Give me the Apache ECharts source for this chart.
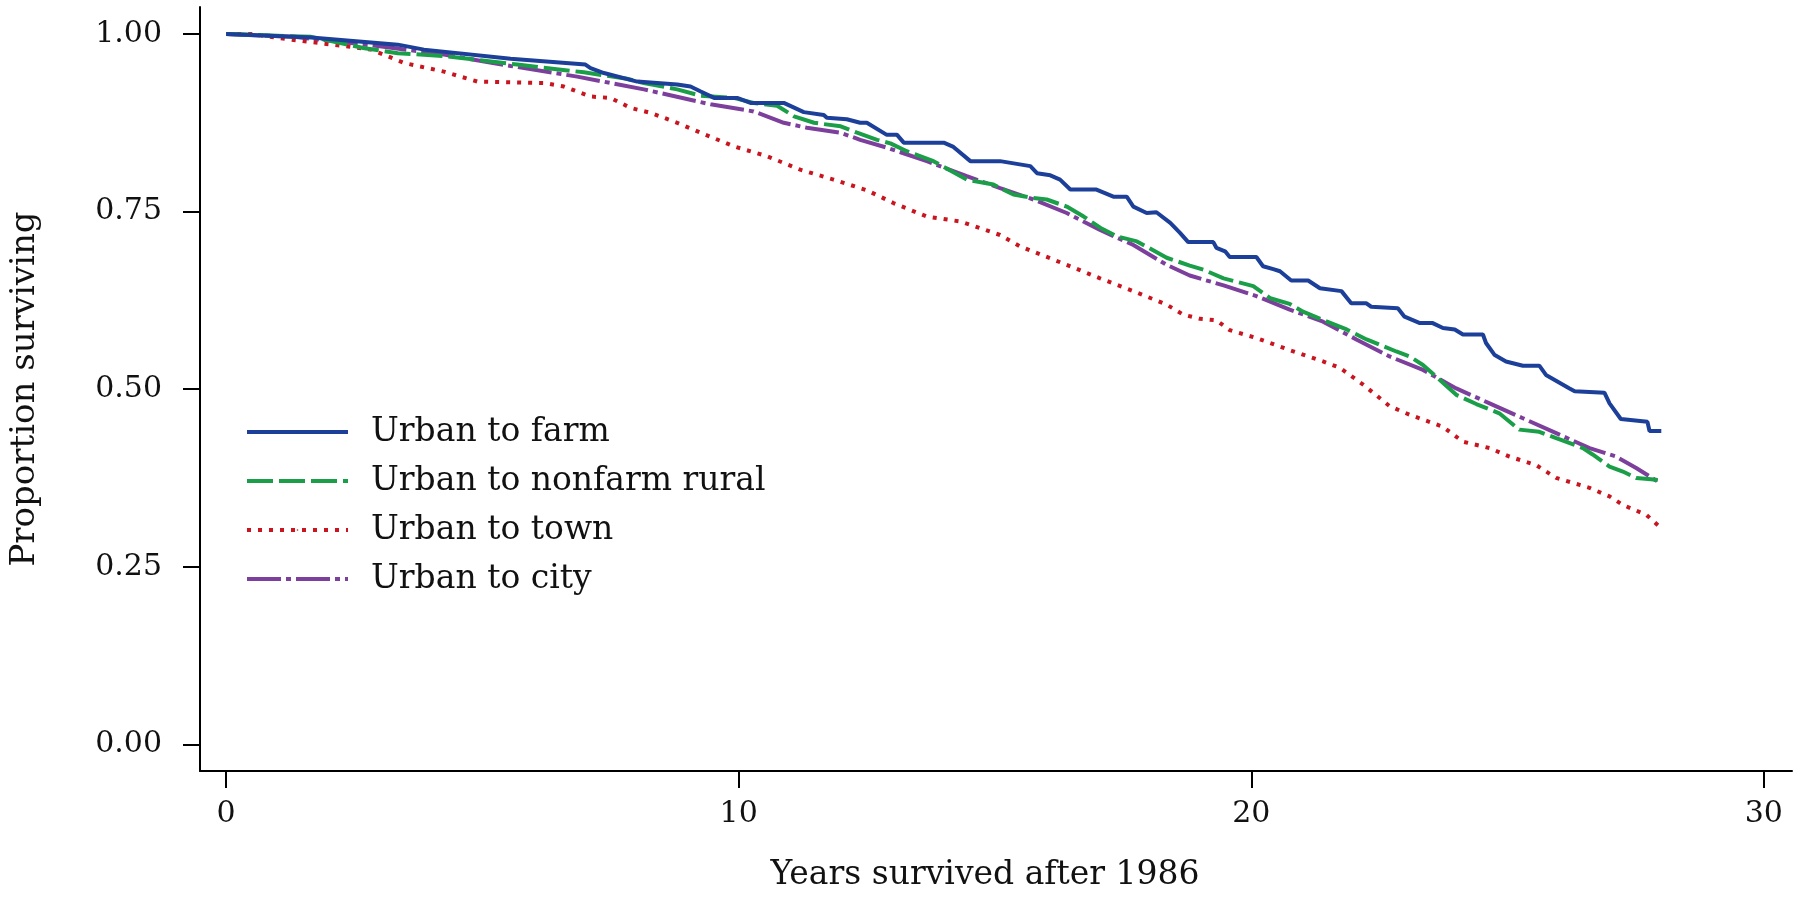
<!DOCTYPE html>
<html>
<head>
<meta charset="utf-8">
<script src="https://cdn.jsdelivr.net/npm/echarts@6/dist/echarts.min.js"></script>
<style>
html,body{margin:0;padding:0;background:#fff;}
#chart{width:1800px;height:898px;}
</style>
</head>
<body>
<div id="chart"></div>
<script>
var seriesNames = ['Urban to farm', 'Urban to nonfarm rural', 'Urban to town', 'Urban to city'];
var xTicks = [0, 10, 20, 30];
var yTicks = [0, 0.25, 0.5, 0.75, 1];

var farm = [
  [0,1.0],[1.66,0.995],[3.35,0.985],[3.86,0.978],[5.55,0.965],[7.01,0.957],[7.11,0.952],[7.37,0.945],
  [8.02,0.933],[8.80,0.929],[9.06,0.926],[9.26,0.919],[9.52,0.910],[9.97,0.910],[10.23,0.903],[10.88,0.903],
  [11.27,0.890],[11.66,0.886],[11.72,0.882],[12.11,0.880],[12.37,0.875],[12.50,0.875],[12.89,0.858],[13.09,0.858],
  [13.22,0.847],[14.0,0.847],[14.19,0.841],[14.52,0.821],[15.10,0.821],[15.69,0.814],[15.82,0.804],[16.08,0.801],
  [16.27,0.795],[16.47,0.781],[16.98,0.781],[17.31,0.771],[17.57,0.771],[17.70,0.757],[17.96,0.748],[18.15,0.749],
  [18.42,0.734],[18.61,0.720],[18.77,0.707],[19.26,0.707],[19.32,0.699],[19.49,0.694],[19.58,0.686],[20.10,0.686],
  [20.23,0.673],[20.43,0.669],[20.56,0.666],[20.78,0.653],[21.11,0.653],[21.34,0.642],[21.76,0.638],[21.95,0.621],
  [22.24,0.621],[22.34,0.616],[22.86,0.614],[22.99,0.602],[23.29,0.593],[23.54,0.593],[23.74,0.586],[23.97,0.584],
  [24.13,0.577],[24.52,0.577],[24.58,0.565],[24.75,0.548],[24.97,0.539],[25.30,0.533],[25.62,0.533],[25.75,0.520],
  [26.21,0.501],[26.31,0.497],[26.89,0.495],[26.99,0.480],[27.21,0.458],[27.73,0.454],[27.77,0.441],[28.0,0.441]
];
var nonfarm = [
  [0,1.0],[1.66,0.996],[2.70,0.980],[3.35,0.973],[4.25,0.969],[5.68,0.957],[6.98,0.946],[7.82,0.937],[8.15,0.931],
  [8.80,0.922],[9.26,0.913],[9.90,0.910],[10.29,0.903],[10.75,0.899],[11.08,0.884],[11.47,0.875],[11.99,0.870],
  [12.31,0.861],[12.70,0.851],[12.96,0.846],[13.28,0.835],[13.80,0.821],[14.45,0.795],[14.97,0.788],[15.36,0.774],
  [15.75,0.769],[16.01,0.767],[16.40,0.757],[16.73,0.743],[17.06,0.727],[17.38,0.715],[17.77,0.708],[18.35,0.685],
  [18.80,0.674],[19.07,0.668],[19.46,0.656],[20.04,0.645],[20.37,0.628],[20.75,0.620],[21.01,0.609],[21.41,0.597],
  [21.86,0.584],[22.25,0.570],[22.83,0.553],[23.09,0.546],[23.35,0.534],[23.74,0.509],[24.0,0.492],[24.39,0.479],
  [24.84,0.466],[25.23,0.443],[25.62,0.440],[25.95,0.431],[26.47,0.417],[26.66,0.408],[26.99,0.391],[27.25,0.384],
  [27.51,0.375],[27.80,0.373],[27.93,0.372]
];
var town = [
  [0,1.0],[0.49,1.0],[1.27,0.992],[2.31,0.983],[2.83,0.978],[3.48,0.959],[4.25,0.947],[4.90,0.933],[6.20,0.931],
  [6.59,0.926],[7.11,0.912],[7.50,0.910],[7.89,0.896],[8.28,0.889],[8.80,0.875],[9.26,0.861],[9.90,0.842],
  [10.55,0.828],[11.20,0.809],[11.85,0.795],[12.50,0.780],[13.02,0.762],[13.67,0.743],[14.33,0.736],[15.10,0.717],
  [15.49,0.701],[16.40,0.675],[17.05,0.656],[17.70,0.638],[18.35,0.619],[18.67,0.605],[19.0,0.599],[19.32,0.597],
  [19.58,0.583],[20.10,0.572],[20.75,0.555],[21.40,0.539],[21.73,0.530],[22.19,0.506],[22.70,0.476],[23.09,0.464],
  [23.74,0.447],[24.13,0.426],[24.65,0.417],[25.04,0.405],[25.56,0.393],[25.95,0.375],[26.60,0.361],[26.99,0.349],
  [27.25,0.337],[27.71,0.323],[28.0,0.304]
];
var city = [
  [0,1.0],[1.33,0.996],[2.96,0.983],[4.25,0.971],[5.55,0.955],[6.85,0.940],[8.15,0.922],[9.45,0.901],[10.29,0.891],
  [10.88,0.875],[11.33,0.868],[11.99,0.861],[12.37,0.851],[12.89,0.840],[13.67,0.821],[14.45,0.800],[15.10,0.783],
  [15.75,0.767],[16.40,0.748],[17.05,0.724],[17.70,0.703],[18.35,0.675],[18.80,0.660],[19.46,0.646],[20.10,0.631],
  [20.75,0.612],[21.40,0.595],[22.05,0.570],[22.70,0.546],[23.35,0.527],[24.0,0.501],[24.65,0.480],[25.30,0.459],
  [25.95,0.438],[26.60,0.417],[27.12,0.405],[27.51,0.389],[27.93,0.370]
];

var FONT = 'DejaVu Serif';
var colors = ['#1c3f99', '#1a9e48', '#c8151f', '#7d3f9c'];
var dashes = ['solid', [26, 6], [4, 7], [34, 5, 5, 5]];
var datasets = [farm, nonfarm, town, city];

var chart = echarts.init(document.getElementById('chart'), null, {renderer: 'canvas'});
var option = {
  animation: false,
  backgroundColor: '#fff',
  grid: {left: 199, right: 8, top: 7, bottom: 127, containLabel: false},
  legend: {
    show: true,
    orient: 'vertical',
    left: 245,
    top: 413,
    padding: 0,
    itemWidth: 101,
    itemHeight: 2,
    itemGap: 11,
    itemStyle: {borderWidth: 0},
    lineStyle: {width: 4},
    textStyle: {fontFamily: FONT, fontSize: 33, color: '#111', lineHeight: 38, padding: [0, 0, 0, 18]},
    data: seriesNames
  },
  xAxis: {
    type: 'value',
    min: -0.51,
    max: 30.55,
    name: 'Years survived after 1986',
    nameLocation: 'middle',
    nameGap: 88,
    nameTextStyle: {fontFamily: FONT, fontSize: 33, color: '#111', padding: [0, 22, 0, 0]},
    axisLine: {show: true, onZero: false, lineStyle: {color: '#000', width: 2}},
    splitLine: {show: false},
    axisTick: {show: true, length: 17, lineStyle: {color: '#000', width: 2}, customValues: xTicks},
    axisLabel: {fontFamily: FONT, fontSize: 30, color: '#111', margin: 28, customValues: xTicks}
  },
  yAxis: {
    type: 'value',
    min: -0.0376,
    max: 1.038,
    name: 'Proportion surviving',
    nameLocation: 'middle',
    nameGap: 158,
    nameTextStyle: {fontFamily: FONT, fontSize: 34, color: '#111'},
    axisLine: {show: true, onZero: false, lineStyle: {color: '#000', width: 2}},
    splitLine: {show: false},
    axisTick: {show: true, length: 17, lineStyle: {color: '#000', width: 2}, customValues: yTicks},
    axisLabel: {fontFamily: FONT, fontSize: 30, color: '#111', margin: 38, customValues: yTicks,
      formatter: function (v) { return v.toFixed(2); }}
  },
  series: seriesNames.map(function (n, i) {
    return {
      name: n,
      type: 'line',
      data: datasets[i],
      showSymbol: false,
      symbol: 'none',
      lineStyle: {color: colors[i], width: 4, type: dashes[i]},
      itemStyle: {color: colors[i]},
      z: 10 - i
    };
  })
};
chart.setOption(option);
</script>
</body>
</html>
